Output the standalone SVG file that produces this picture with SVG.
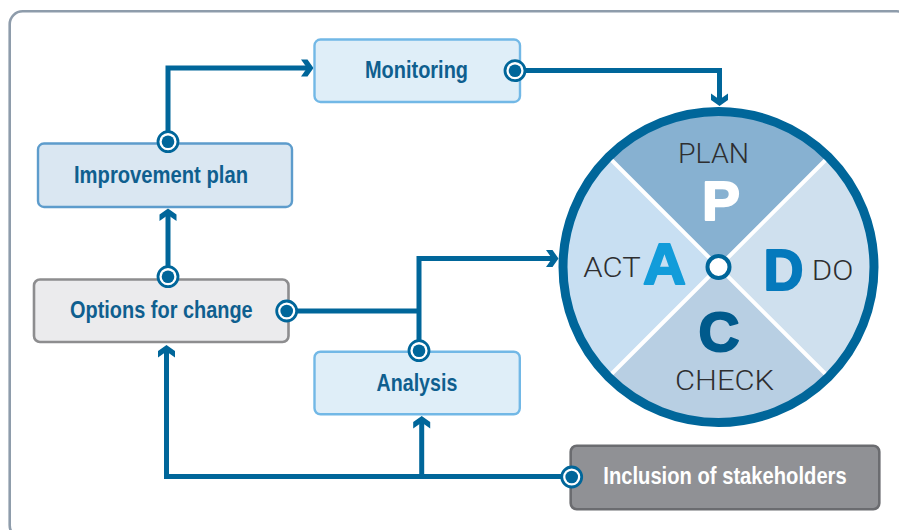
<svg xmlns="http://www.w3.org/2000/svg" xmlns:xlink="http://www.w3.org/1999/xlink" width="899" height="530" viewBox="0 0 899 530">
  <style>
    .frame { fill: #ffffff; stroke: #8e9cab; stroke-width: 2.6; }
    .conn { fill: none; stroke: #00669a; stroke-width: 5; stroke-linejoin: miter; }
    .ah { fill: #00669a; }
    .boxA { fill: #dfeef8; stroke: #72b8e6; stroke-width: 2.4; }
    .boxB { fill: #dae7f2; stroke: #5d9ccc; stroke-width: 2.4; }
    .boxG { fill: #ebebed; stroke: #8d8d8f; stroke-width: 2.6; }
    .boxD { fill: #909195; stroke: #6b6c70; stroke-width: 2.6; }
    .lbl { font-family: "Liberation Sans Narrow", "Liberation Sans", Arial, sans-serif; font-weight: bold; font-size: 24px; fill: #0f5f8f; }
    .lblW { fill: #ffffff; }
    .thin { font-family: Roboto, "Liberation Sans", Arial, sans-serif; font-weight: 300; font-size: 28px; fill: #2e2e30; }
    .big { font-family: "Liberation Sans", Arial, sans-serif; font-weight: bold; stroke-width: 2; stroke-linejoin: round; }
  </style>
  <defs>
    <path id="arrowhead" class="ah" d="M0,0 L-6,-8.5 L-12.5,-8.5 L-6.5,0 L-12.5,8.5 L-6,8.5 Z"/>
    <g id="dot">
      <circle r="10" fill="#ffffff" stroke="#00669a" stroke-width="2.8"/>
      <circle r="6.3" fill="#00669a"/>
    </g>
  </defs>

  <rect class="frame" x="9.7" y="11.3" width="900" height="527" rx="13" ry="13"/>

  <g id="connectors">
    <!-- Improvement plan -> Monitoring -->
    <path class="conn" d="M168,142 V68 H308"/>
    <use xlink:href="#arrowhead" href="#arrowhead" transform="translate(313.5,68)"/>
    <!-- Monitoring -> PDCA (top) -->
    <path class="conn" d="M515,70.5 H719.5 V100"/>
    <use xlink:href="#arrowhead" href="#arrowhead" transform="translate(719.5,106) rotate(90)"/>
    <!-- Options for change -> Improvement plan -->
    <path class="conn" d="M168,277 V214"/>
    <use xlink:href="#arrowhead" href="#arrowhead" transform="translate(168,208.5) rotate(-90)"/>
    <!-- Options for change -> junction -->
    <path class="conn" d="M287,311 H419"/>
    <!-- Analysis -> PDCA (left) -->
    <path class="conn" d="M419,351 V258.5 H552"/>
    <use xlink:href="#arrowhead" href="#arrowhead" transform="translate(558.5,258.5)"/>
    <!-- Inclusion of stakeholders -> Options for change -->
    <path class="conn" d="M572,476.5 H166.5 V351"/>
    <use xlink:href="#arrowhead" href="#arrowhead" transform="translate(166.5,345) rotate(-90)"/>
    <!-- Inclusion of stakeholders -> Analysis -->
    <path class="conn" d="M421.7,476.5 V422"/>
    <use xlink:href="#arrowhead" href="#arrowhead" transform="translate(421.7,416) rotate(-90)"/>
  </g>

  <g id="monitoring">
    <rect class="boxA" x="314.5" y="39.5" width="205.5" height="62.5" rx="6"/>
    <text class="lbl" x="365" y="78.3" textLength="103" lengthAdjust="spacingAndGlyphs">Monitoring</text>
    <use xlink:href="#dot" href="#dot" transform="translate(515,70.7)"/>
  </g>

  <g id="improvement-plan">
    <rect class="boxB" x="38" y="143.5" width="254" height="63.5" rx="6"/>
    <text class="lbl" x="74" y="183.3" textLength="174" lengthAdjust="spacingAndGlyphs">Improvement plan</text>
    <use xlink:href="#dot" href="#dot" transform="translate(168,141.7)"/>
  </g>

  <g id="options-for-change">
    <rect class="boxG" x="34" y="279.5" width="254.5" height="62.5" rx="6"/>
    <text class="lbl" x="70" y="318.3" textLength="182.7" lengthAdjust="spacingAndGlyphs">Options for change</text>
    <use xlink:href="#dot" href="#dot" transform="translate(168,276.7)"/>
    <use xlink:href="#dot" href="#dot" transform="translate(286.7,311)"/>
  </g>

  <g id="analysis">
    <rect class="boxA" x="314.5" y="351.7" width="205.3" height="62.6" rx="6"/>
    <text class="lbl" x="376.6" y="390.7" textLength="80.7" lengthAdjust="spacingAndGlyphs">Analysis</text>
    <use xlink:href="#dot" href="#dot" transform="translate(419,350.7)"/>
  </g>

  <g id="inclusion-of-stakeholders">
    <rect class="boxD" x="570.7" y="445.7" width="308.6" height="63.6" rx="6"/>
    <text class="lbl lblW" x="603.3" y="484" textLength="243.4" lengthAdjust="spacingAndGlyphs">Inclusion of stakeholders</text>
    <use xlink:href="#dot" href="#dot" transform="translate(571.7,477)"/>
  </g>

  <g id="pdca">
    <path d="M718.5,267 L611,159.5 A152,152 0 0 1 826,159.5 Z" fill="#87b1d1"/>
    <path d="M718.5,267 L826,159.5 A152,152 0 0 1 826,374.5 Z" fill="#cfe0ee"/>
    <path d="M718.5,267 L826,374.5 A152,152 0 0 1 611,374.5 Z" fill="#b8cfe3"/>
    <path d="M718.5,267 L611,374.5 A152,152 0 0 1 611,159.5 Z" fill="#c8dff2"/>
    <path d="M608,156.5 L829,377.5 M829,156.5 L608,377.5" stroke="#ffffff" stroke-width="4" fill="none"/>
    <circle cx="718.5" cy="267" r="155.5" fill="none" stroke="#00669a" stroke-width="9"/>
    <circle cx="718.5" cy="267" r="11" fill="#ffffff" stroke="#00669a" stroke-width="4"/>
    <text class="thin" x="678" y="163.3" textLength="71" lengthAdjust="spacingAndGlyphs">PLAN</text>
    <text class="big" x="702" y="220" font-size="56" fill="#ffffff" stroke="#ffffff" textLength="38" lengthAdjust="spacingAndGlyphs">P</text>
    <text class="thin" x="583.3" y="277.3" textLength="57.4" lengthAdjust="spacingAndGlyphs">ACT</text>
    <text class="big" x="643" y="284.3" font-size="57" fill="#129cda" stroke="#129cda" textLength="43" lengthAdjust="spacingAndGlyphs">A</text>
    <text class="big" x="763.5" y="290" font-size="58" fill="#0479bc" stroke="#0479bc" textLength="40" lengthAdjust="spacingAndGlyphs">D</text>
    <text class="thin" x="811.7" y="280" textLength="41.6" lengthAdjust="spacingAndGlyphs">DO</text>
    <text class="big" x="698.5" y="350.5" font-size="55" fill="#005a8c" stroke="#005a8c" textLength="41" lengthAdjust="spacingAndGlyphs">C</text>
    <text class="thin" x="675" y="390" textLength="99" lengthAdjust="spacingAndGlyphs">CHECK</text>
  </g>
</svg>
